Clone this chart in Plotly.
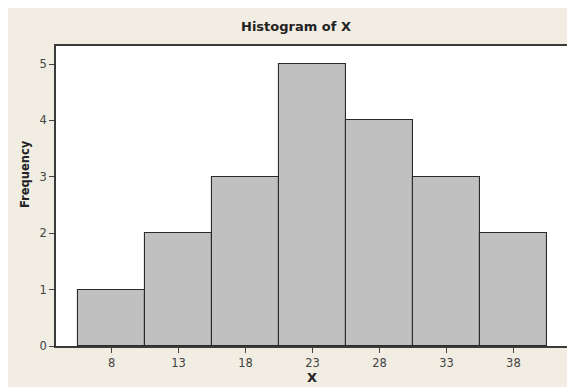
import plotly.graph_objects as go

bin_mids = [8, 13, 18, 23, 28, 33, 38]
counts = [1, 2, 3, 5, 4, 3, 2]
bin_width = 5
tick_vals = [8, 13, 18, 23, 28, 33, 38]
y_ticks = [0, 1, 2, 3, 4, 5]

# page body adds an 8px offset, so figure coords = screenshot coords - 8
W, H = 575, 387
L, R, T, B = 48, 565, 38, 338
pw, ph = R - L, B - T

def px_x(p):
    return (p - L) / pw

def px_y(p):
    return (B - p) / ph

fig = go.Figure(go.Bar(
    x=bin_mids, y=counts, width=[bin_width] * len(bin_mids),
    marker=dict(color="#C0C0C0", line=dict(color="#2a2a2a", width=1.1)),
    showlegend=False,
))

beige = "#F1EDE3"
font = "DejaVu Sans"
fig.update_layout(
    width=W, height=H,
    margin=dict(l=L, r=W - R, t=T, b=H - B, pad=0),
    paper_bgcolor=beige, plot_bgcolor="white",
    bargap=0,
    font=dict(family=font, size=11.5, color="#444444"),
    annotations=[
        dict(text="<b>Histogram of X</b>", xref="paper", yref="paper",
             x=px_x(289), y=px_y(18), xanchor="center", yanchor="middle",
             showarrow=False, font=dict(family=font, size=13, color="#222222")),
        dict(text="<b>Frequency</b>", xref="paper", yref="paper",
             x=px_x(17), y=px_y(166), xanchor="center", yanchor="middle", textangle=-90,
             showarrow=False, font=dict(family=font, size=11.5, color="#222222")),
        dict(text="<b>X</b>", xref="paper", yref="paper",
             x=px_x(305), y=px_y(369), xanchor="center", yanchor="middle",
             showarrow=False, font=dict(family=font, size=13, color="#222222")),
    ],
)
fig.update_xaxes(
    range=[3.85, 42.3], tickvals=tick_vals, ticks="outside", ticklen=5,
    tickcolor="#444444", showline=True, linecolor="#3a3a3a", linewidth=1.5,
    mirror=True, showgrid=False, zeroline=False, fixedrange=True,
)
fig.update_yaxes(
    range=[0, 5.32], tickvals=y_ticks, ticks="outside", ticklen=5,
    tickcolor="#444444", showline=True, linecolor="#3a3a3a", linewidth=1.5,
    mirror=True, showgrid=False, zeroline=False, fixedrange=True,
)

fig.write_html("out.html", config={"displayModeBar": False})
